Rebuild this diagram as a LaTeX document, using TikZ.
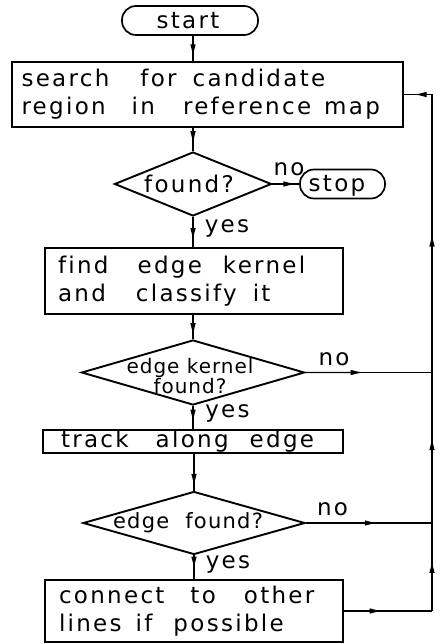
\documentclass[tikz,border=0pt]{standalone}
\usepackage{fontspec}
\usetikzlibrary{shapes.geometric,arrows.meta,calc}
% stencil-like lettering with open letter spacing
\newfontfamily\letterfont{DejaVu Sans}[LetterSpace=10,Ligatures=NoCommon]
\newfontfamily\midfont{DejaVu Sans}[LetterSpace=6,Ligatures=NoCommon]
\newfontfamily\tightfont{DejaVu Sans}[LetterSpace=5,Ligatures=NoCommon]
\newcommand\lettering{\letterfont\fontsize{23}{28}\selectfont}
\newcommand\midlettering{\midfont\fontsize{21}{24}\selectfont}
\newcommand\tightlettering{\tightfont\fontsize{20}{20}\selectfont}
% a connector from #1 to #2 with its arrow head at fraction #3 of the way
\newcommand\flowto[3]{%
  \draw[flow] (#1) -- (#2);
  \draw[flow, -{Latex[length=13pt,width=5.5pt]}] (#1) -- ($(#1)!#3!(#2)$);}
\tikzset{
  x=1pt, y=-1pt,
  box/.style={draw, rectangle, line width=1.9pt, inner ysep=0pt,
    align=left, font=\lettering},
  term/.style={draw, rectangle, rounded corners=14pt, line width=1.7pt,
    minimum height=29pt, inner sep=0pt},
  decide/.style={draw, diamond, line width=1.9pt, inner sep=0pt},
  tag/.style={font=\lettering, inner sep=0pt, anchor=base},
  flow/.style={line width=1.3pt},
}
\begin{document}
\begin{tikzpicture}
\useasboundingbox (0,0) rectangle (439,644);

% terminals
\node[term, minimum width=136pt] (start) at (190,20.5) {};
\node[tag] (starttext) at (188,29) {start};
\node[term, minimum width=85pt] (stop) at (342.5,184) {};
\node[tag] (stoptext) at (337,192) {stop};

% process boxes
\node[box, line width=2.4pt, minimum width=391pt, minimum height=65pt,
  inner xsep=9.5pt, text width=372pt] (srch) at (207.5,94.5)
  {search\hspace{31pt}for\hspace{16pt}candidate\\
   region\hspace{26pt}in\hspace{28pt}reference\hspace{13pt}map};
\node[box, minimum width=298pt, minimum height=66pt,
  inner xsep=13pt, text width=272pt] (find) at (194,281)
  {find\hspace{29pt}edge\hspace{21pt}kernel\\
   and\hspace{30pt}classify\hspace{16pt}it};
\node[box, minimum width=300pt, minimum height=23pt,
  inner xsep=18pt, text width=264pt] (track) at (193,441.5)
  {track\hspace{27pt}along\hspace{21pt}edge};
\node[box, minimum width=298pt, minimum height=62pt,
  inner xsep=14pt, text width=270pt] (conn) at (194,611)
  {connect\hspace{26pt}to\hspace{28pt}other\\
   lines\hspace{14pt}if\hspace{21pt}possible};

% decisions
\node[decide, minimum width=157pt, minimum height=64pt] (fnd) at (193,184) {};
\node[tag] (fndtext) at (189,193) {found?};
\node[decide, minimum width=223pt, minimum height=65pt] (kern) at (193,372.5) {};
\node[font=\tightlettering, align=center, inner sep=0pt, anchor=base]
  (kerntext) at (190,393) {edge kernel\\found?};
\node[decide, minimum width=222pt, minimum height=63pt] (efnd) at (194,523) {};
\node[font=\midlettering, inner sep=0pt, anchor=base] (efndtext) at (188,528)
  {edge\hspace{16pt}found?};

% main line
\coordinate (s1) at (start.south -| fnd.north);
\coordinate (s2) at (srch.north -| fnd.north);
\coordinate (s3) at (srch.south -| fnd.north);
\coordinate (f1) at (find.north -| fnd.south);
\coordinate (f2) at (find.south -| kern.north);
\coordinate (t1) at (track.north -| kern.south);
\coordinate (t2) at (track.south -| efnd.north);
\coordinate (c1) at (conn.north -| efnd.south);
\flowto{s1}{s2}{0.86}
\flowto{s3}{fnd.north}{0.7}
\flowto{fnd.south}{f1}{0.8}
\flowto{f2}{kern.north}{0.88}
\flowto{kern.south}{t1}{0.72}
\flowto{t2}{efnd.north}{0.9}
\flowto{efnd.south}{c1}{0.6}
\flowto{fnd.east}{stop.west}{0.9}

% return loop on the right
\coordinate (rb) at (432,611);
\coordinate (rk) at (432,372.5);
\coordinate (re) at (432,523);
\coordinate (rt) at (432,94.5);
\flowto{conn.east}{rb}{0.44}
\flowto{rb}{re}{0.58}
\flowto{re}{rk}{0.57}
\flowto{rk}{rt}{0.5}
\flowto{rt}{srch.east}{0.66}
\flowto{kern.east}{rk}{0.46}
\flowto{efnd.east}{re}{0.57}

% branch labels
\node[tag] (no1) at (289,176) {no};
\node[tag] (yes1) at (227,232) {yes};
\node[tag] (no2) at (334,365) {no};
\node[tag] (yes2) at (227.5,417) {yes};
\node[tag] (no3) at (332.5,515) {no};
\node[tag] (yes3) at (228,568) {yes};
\end{tikzpicture}
\end{document}
